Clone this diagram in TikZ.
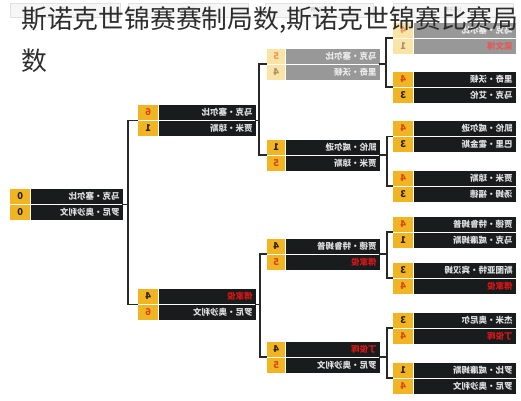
\documentclass[tikz,border=0pt]{standalone}
\usepackage{fontspec}
\setmainfont{Noto Sans CJK SC}
\definecolor{gold}{RGB}{241,181,35}
\definecolor{paleg}{RGB}{249,228,165}
\definecolor{darkc}{RGB}{24,28,29}
\definecolor{greyc}{RGB}{152,152,152}
\definecolor{winc}{RGB}{214,72,24}
\definecolor{losec}{RGB}{45,33,10}
\definecolor{redn}{RGB}{214,22,22}
\definecolor{linec}{RGB}{40,40,40}
\definecolor{titlec}{RGB}{45,45,45}
\definecolor{hdfill}{RGB}{246,246,246}
\definecolor{hddraw}{RGB}{225,225,225}
\definecolor{hdtext}{RGB}{200,200,200}
\newcommand\colx{10}
\newcommand\colsw{20}
\newcommand\colnw{92}
\newcommand\colw{112}
\newcommand\prow[7]{%
  \node[sc,minimum width=\colsw pt,#4] (#1s) at (#2,#3) {\reflectbox{#5}};
  \node[ncell,minimum width=\colnw pt] (#1c) at (#1s.east) {};
  \node[nt,#6] (#1t) at ([xshift=-3pt]#1c.east) {\reflectbox{#7}};
}
\newcommand\matchbox[9]{%
  \node[bx,minimum width=\colw pt] (#1) at (\colx+\colw/2,#2) {};
  \prow{#1a}{\colx}{#2-8}{#3}{#4}{#5}{#6}
  \prow{#1b}{\colx}{#2+8}{#7}{#8}{#9}
}
\begin{document}
\begin{tikzpicture}[x=1pt,y=-1pt,
  sc/.style={anchor=west, fill=gold, minimum height=15pt, inner sep=0pt, text=losec, font=\bfseries\fontsize{9.5}{10}\selectfont},
  win/.style={text=winc},
  ncell/.style={anchor=west, fill=darkc, minimum height=15pt, inner sep=0pt},
  nt/.style={anchor=east, inner sep=0pt, text=white!88!black, font=\bfseries\fontsize{8.5}{9}\selectfont},
  rname/.style={text=redn},
  bx/.style={minimum height=31pt, inner sep=0pt},
  conn/.style={draw=linec, line width=1.2pt},
  hd/.style={fill=hdfill, draw=hddraw, line width=0.6pt, minimum height=14pt, inner sep=0pt, text=hdtext, font=\fontsize{5}{6}\selectfont},
  title/.style={anchor=west, inner sep=0pt, text=titlec, font=\fontsize{25.8}{30}\selectfont}]
\useasboundingbox (0,0) rectangle (521,400);
\fill[white] (0,0) rectangle (521,400);
% faint header boxes
\node[hd,minimum width=110pt] (hd1) at (65,10) {\reflectbox{决赛}};
\node[hd,minimum width=120pt] (hd2) at (188,10) {\reflectbox{半决赛}};
\node[hd,minimum width=108pt] (hd3) at (319,10) {\reflectbox{1/4决赛}};
\node[hd,minimum width=120pt] (hd4) at (453,10) {\reflectbox{1/8决赛}};
% column 1 (final)
\matchbox{F}{204.5}{}{0}{}{马克·塞尔比}{}{0}{}{罗尼·奥沙利文}
% column 2
\renewcommand\colx{138}\renewcommand\colsw{20}\renewcommand\colnw{97}\renewcommand\colw{117}
\matchbox{S1}{120.5}{win}{6}{}{马克·塞尔比}{}{1}{}{贾米·琼斯}
\matchbox{S2}{304.5}{}{4}{rname}{傅家俊}{win}{6}{}{罗尼·奥沙利文}
% column 3
\renewcommand\colx{267}\renewcommand\colsw{18}\renewcommand\colnw{94}\renewcommand\colw{112}
\begin{scope}[sc/.append style={fill=paleg, text={rgb,255:red,165;green,145;blue,105}},
  win/.style={text={rgb,255:red,238;green,150;blue,95}},
  ncell/.append style={fill=greyc}, nt/.append style={text=white!92!black}]
\matchbox{Q1}{64}{win}{5}{}{马克·塞尔比}{}{4}{}{里奇·沃顿}
\end{scope}
\matchbox{Q2}{155}{}{1}{}{凯伦·威尔逊}{win}{5}{}{贾米·琼斯}
\matchbox{Q3}{254}{}{4}{}{贾德·特鲁姆普}{win}{5}{rname}{傅家俊}
\matchbox{Q4}{357}{}{4}{rname}{丁俊晖}{win}{5}{}{罗尼·奥沙利文}
% column 4
\renewcommand\colx{393}\renewcommand\colsw{20}\renewcommand\colnw{102}\renewcommand\colw{122}
\begin{scope}[sc/.append style={fill=paleg, text={rgb,255:red,165;green,145;blue,105}},
  win/.style={text={rgb,255:red,238;green,150;blue,95}},
  ncell/.append style={fill=greyc}, nt/.append style={text=white!92!black},
  rname/.style={text={rgb,255:red,228;green,90;blue,90}}]
\matchbox{R1}{38}{win}{4}{}{马克·塞尔比}{}{1}{rname}{梁文博}
\end{scope}
\matchbox{R2}{87}{win}{4}{}{里奇·沃顿}{}{3}{}{马克·艾伦}
\matchbox{R3}{136.5}{win}{4}{}{凯伦·威尔逊}{}{3}{}{巴里·霍金斯}
\matchbox{R4}{186}{win}{4}{}{贾米·琼斯}{}{3}{}{汤姆·福德}
\matchbox{R5}{232}{win}{4}{}{贾德·特鲁姆普}{}{1}{}{马克·威廉姆斯}
\matchbox{R6}{278}{}{3}{}{斯图亚特·宾汉姆}{win}{4}{rname}{傅家俊}
\matchbox{R7}{328}{}{3}{}{杰米·奥尼尔}{win}{4}{rname}{丁俊晖}
\matchbox{R8}{378}{}{1}{}{罗比·威廉姆斯}{win}{4}{}{罗尼·奥沙利文}
% connectors
\coordinate (jF) at (128,204.5);
\draw[conn] (S1.west) -| (jF) |- (S2.west);
\draw[conn] (F.east) -- (jF);
\coordinate (jS1) at (259,120.5);
\draw[conn] (Q1.west) -| (jS1) |- (Q2.west);
\draw[conn] (S1.east) -- (jS1);
\coordinate (jS2) at (260,304.5);
\draw[conn] (Q3.west) -| (jS2) |- (Q4.west);
\draw[conn] (S2.east) -- (jS2);
\coordinate (jQ1) at (386,64);
\draw[conn] (R1.west) -| (jQ1) |- (R2.west);
\draw[conn] (Q1.east) -- (jQ1);
\coordinate (jQ2) at (387,155);
\draw[conn] (R3.west) -| (jQ2) |- (R4.west);
\draw[conn] (Q2.east) -- (jQ2);
\coordinate (jQ3) at (387,254);
\draw[conn] (R5.west) -| (jQ3) |- (R6.west);
\draw[conn] (Q3.east) -- (jQ3);
\coordinate (jQ4) at (387,357);
\draw[conn] (R7.west) -| (jQ4) |- (R8.west);
\draw[conn] (Q4.east) -- (jQ4);
% title
\node[title] (t1) at (21,20.5) {斯诺克世锦赛赛制局数,斯诺克世锦赛比赛局};
\node[title] (t2) at (21,61) {数};
\end{tikzpicture}
\end{document}
